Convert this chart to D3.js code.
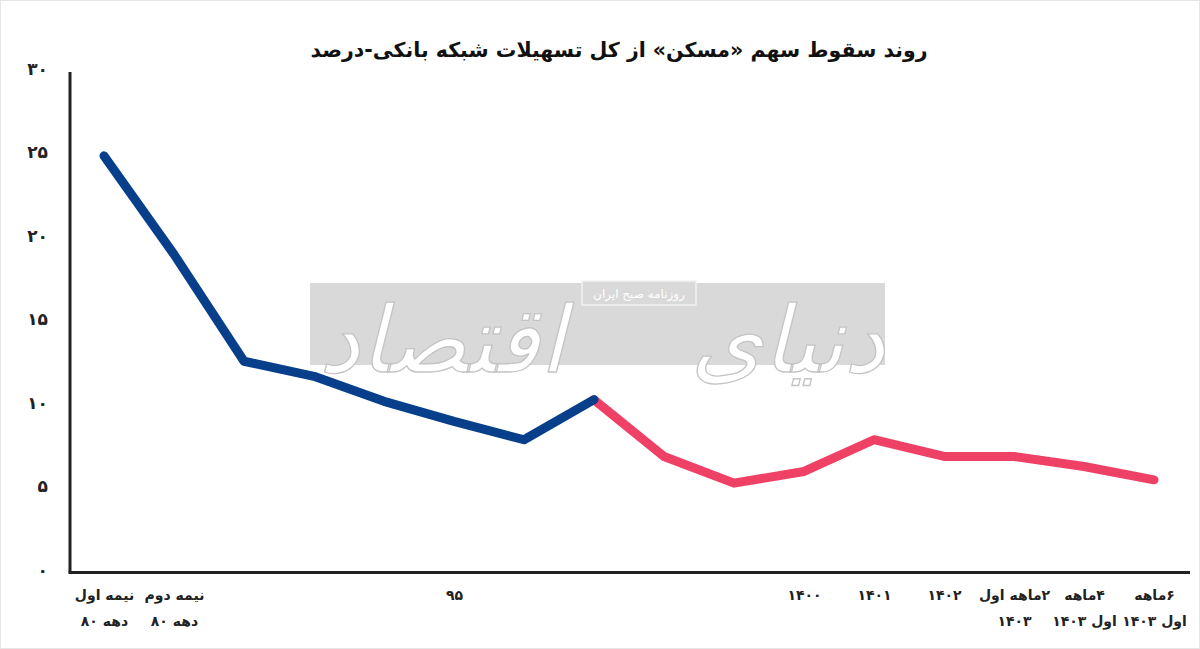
<!DOCTYPE html>
<html><head><meta charset="utf-8">
<script src="https://cdn.jsdelivr.net/npm/d3@7"></script>
<style>
html,body{margin:0;padding:0;background:#fff;}
svg{display:block;}
text{font-family:"DejaVu Sans","Noto Sans",sans-serif;}
</style></head>
<body>
<script>
// ---- data ----
const labelsTop = ["نیمه اول","نیمه دوم","","","","۹۵","","","","","۱۴۰۰","۱۴۰۱","۱۴۰۲","۲ماهه اول","۴ماهه","۶ماهه"];
const labelsBottom = ["دهه ۸۰","دهه ۸۰","","","","","","","","","","","","۱۴۰۳","اول ۱۴۰۳","اول ۱۴۰۳"];
const values = [24.8,18.9,12.5,11.6,10.1,8.9,7.8,10.2,6.8,5.2,5.9,7.8,6.8,6.8,6.2,5.4];
const blueEnd = 7;   // index where the blue segment ends and red begins
const yTicks = [0,5,10,15,20,25,30];
const yTickLabels = ["۰","۵","۱۰","۱۵","۲۰","۲۵","۳۰"];
const title = "روند سقوط سهم «مسکن» از کل تسهیلات شبکه بانکی-درصد";

const W=1200,H=649;
const svg=d3.select("body").append("svg").attr("width",W).attr("height",H);
svg.append("rect").attr("x",0.5).attr("y",0.5).attr("width",W-1).attr("height",H-1)
  .attr("fill","#fff").attr("stroke","#e6e6e6");

const idx=d3.range(values.length);
const x=d3.scalePoint().domain(idx).range([104,1154]);
const y=d3.scaleLinear().domain([0,30]).range([570,69]);

// watermark
const wm=svg.append("g");
wm.append("rect").attr("x",310).attr("y",283).attr("width",575).attr("height",82).attr("fill","#d9d9d9");
wm.append("text").attr("x",885).attr("y",372).attr("text-anchor","start")
  .attr("font-size",92).attr("font-style","italic").attr("fill","#fff").attr("stroke","#c4c4c4").attr("stroke-width",1.3)
  .attr("direction","rtl").text("دنیای");
wm.append("text").attr("x",565).attr("y",372).attr("text-anchor","start")
  .attr("font-size",92).attr("font-style","italic").attr("fill","#fff").attr("stroke","#c4c4c4").attr("stroke-width",1.3)
  .attr("direction","rtl").text("اقتصاد");
wm.append("rect").attr("x",582).attr("y",281).attr("width",114).attr("height",24).attr("fill","#d9d9d9").attr("stroke","#f2f2f2").attr("stroke-width",1.5);
wm.append("text").attr("x",639).attr("y",298).attr("text-anchor","middle").attr("font-size",12).attr("fill","#fff")
  .attr("direction","rtl").text("روزنامه صبح ایران");

// axes lines
svg.append("line").attr("x1",70).attr("x2",70).attr("y1",y(30)+3).attr("y2",y(0)+2.5).attr("stroke","#222").attr("stroke-width",3);
svg.append("line").attr("x1",68.5).attr("x2",1190).attr("y1",y(0)+2.5).attr("y2",y(0)+2.5).attr("stroke","#222").attr("stroke-width",3);

// y tick labels
const yAxis=d3.axisLeft(y).tickValues(yTicks).tickSize(0).tickPadding(0).tickFormat((d,i)=>yTickLabels[i]);
const gy=svg.append("g").attr("transform","translate(48,0)").call(yAxis);
gy.select(".domain").remove();
gy.selectAll("text").attr("font-size",17).attr("font-weight","bold").attr("fill","#222")
  .attr("font-family","'DejaVu Sans',sans-serif");

// x tick labels
const gx=svg.append("g").attr("transform","translate(0,"+(y(0)+2)+")");
const xAxis=d3.axisBottom(x).tickSize(0).tickFormat(()=> "");
gx.call(xAxis); gx.select(".domain").remove();
gx.selectAll(".tick").each(function(d){
  const t=d3.select(this).select("text");
  t.attr("font-size",14).attr("font-weight","bold").attr("fill","#222").attr("direction","rtl").attr("y",0).attr("dy",null);
  t.append("tspan").attr("x",0).attr("y",28).text(labelsTop[d]);
  t.append("tspan").attr("x",0).attr("y",54).text(labelsBottom[d]);
});

// lines
const line=d3.line().x(d=>x(d)).y(d=>y(values[d]));
svg.append("path").datum(idx.slice(blueEnd)).attr("d",line).attr("fill","none")
  .attr("stroke","#ef4165").attr("stroke-width",9).attr("stroke-linejoin","round").attr("stroke-linecap","round");
svg.append("path").datum(idx.slice(0,blueEnd+1)).attr("d",line).attr("fill","none")
  .attr("stroke","#073f8b").attr("stroke-width",9).attr("stroke-linejoin","round").attr("stroke-linecap","round");

// title
svg.append("text").attr("x",619).attr("y",57).attr("text-anchor","middle").attr("direction","rtl")
  .attr("font-size",20.5).attr("font-weight","bold").attr("fill","#111").text(title);
</script>
</body></html>
